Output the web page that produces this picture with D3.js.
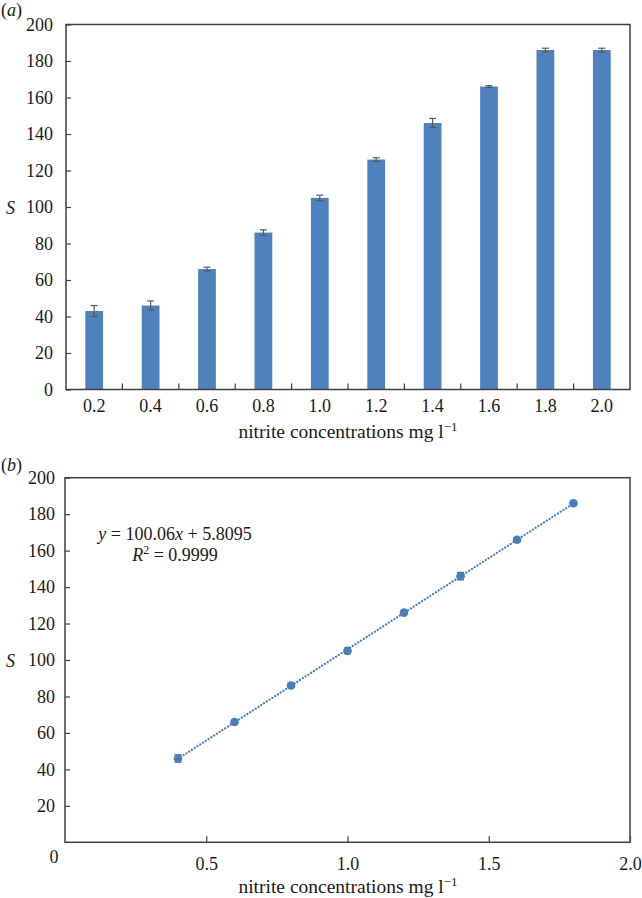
<!DOCTYPE html>
<html><head><meta charset="utf-8">
<script src="https://cdn.jsdelivr.net/npm/d3@7"></script>
<style>
body{margin:0;background:#fff;}
text{font-family:"Liberation Serif","Times New Roman",serif;fill:#1a1a1a;}
</style></head>
<body><svg id="c" width="642" height="898"></svg>
<script>
// ---- data ----
const categories = ["0.2","0.4","0.6","0.8","1.0","1.2","1.4","1.6","1.8","2.0"];
const barValues  = [43, 46, 66, 86, 105, 126, 146, 166, 186, 186];
const barErrors  = [3, 2.5, 1, 1.5, 1.5, 1, 2.5, 0.5, 1, 1];
const yTicksA    = [0,20,40,60,80,100,120,140,160,180,200];

const pointX      = [0.4, 0.6, 0.8, 1.0, 1.2, 1.4, 1.6, 1.8];
const pointY      = [46, 66, 86, 105, 126, 146, 166, 186];
const pointErrors = [2, 1, 1, 1.5, 0.8, 2, 0.8, 0.5];
const fitSlope = 100.06, fitIntercept = 5.8095;
const fitRange = [0.4, 1.8];
const yTicksB  = [20,40,60,80,100,120,140,160,180,200];
const xTicksB  = [0.5,1.0,1.5,2.0];

const svg = d3.select("#c");
const axisCol = "#404040", barCol = "#4f81bd", errCol = "#595959", ptCol = "#4a7ebb";
const FS = 18, FT = 19.5;

// ================= panel (a) =================
const A = {l:66, r:630, t:24.5, b:389.5};
const xA = d3.scaleBand().domain(categories).range([A.l, A.r]).padding(0);
const yA = d3.scaleLinear().domain([0,200]).range([A.b, A.t]);
const gA = svg.append("g");
const bw = xA.bandwidth()*0.315;

gA.selectAll("rect.bar").data(categories).join("rect")
  .attr("x", d => xA(d) + xA.bandwidth()/2 - bw/2)
  .attr("width", bw)
  .attr("y", (d,i) => yA(barValues[i]))
  .attr("height", (d,i) => yA(0) - yA(barValues[i]))
  .attr("fill", barCol);

// error bars
categories.forEach((c,i) => {
  const cx = xA(c) + xA.bandwidth()/2;
  const y1 = yA(barValues[i]+barErrors[i]), y2 = yA(barValues[i]-barErrors[i]);
  gA.append("line").attr("x1",cx).attr("x2",cx).attr("y1",y1).attr("y2",y2).attr("stroke",errCol).attr("stroke-width",1.2);
  [y1,y2].forEach(yy => gA.append("line").attr("x1",cx-3.5).attr("x2",cx+3.5).attr("y1",yy).attr("y2",yy).attr("stroke",errCol).attr("stroke-width",1.2));
});

// frame
gA.append("rect").attr("x",A.l).attr("y",A.t).attr("width",A.r-A.l).attr("height",A.b-A.t)
  .attr("fill","none").attr("stroke",axisCol).attr("stroke-width",1.5);

// y axis
const yAxA = gA.append("g").attr("transform",`translate(${A.l},0)`)
  .call(d3.axisLeft(yA).tickValues(yTicksA).tickSize(-5).tickPadding(13));
yAxA.select(".domain").remove();
yAxA.selectAll("line").attr("stroke",axisCol).attr("stroke-width",1.2);
yAxA.selectAll("text").attr("font-size",FS).attr("font-family","Liberation Serif").attr("fill","#1a1a1a");

// x axis: labels at category centres, ticks at boundaries
const xAxA = gA.append("g").attr("transform",`translate(0,${A.b})`)
  .call(d3.axisBottom(xA).tickSize(0).tickPadding(10));
xAxA.select(".domain").remove();
xAxA.selectAll("text").attr("font-size",FS).attr("font-family","Liberation Serif").attr("fill","#1a1a1a");
categories.slice(1).forEach(c => {
  gA.append("line").attr("x1",xA(c)).attr("x2",xA(c)).attr("y1",A.b).attr("y2",A.b-6)
    .attr("stroke",axisCol).attr("stroke-width",1.2);
});

function xTitle(g, x, y){
  const t = g.append("text").attr("x",x).attr("y",y).attr("text-anchor","middle").attr("font-size",FT);
  t.append("tspan").text("nitrite concentrations mg l");
  t.append("tspan").attr("dy",-7).attr("font-size",13).text("−1");
}
xTitle(gA, 348, 438);
gA.append("text").attr("x",6).attr("y",214).attr("font-size",FS).attr("font-style","italic").text("S");
gA.append("text").attr("x",1).attr("y",16).attr("font-size",FS).html('(<tspan font-style="italic">a</tspan>)');

// ================= panel (b) =================
const B = {l:65, r:630, t:477.7, b:842.3};
const xB = d3.scaleLinear().domain([0,2]).range([B.l, B.r]);
const yB = d3.scaleLinear().domain([0,200]).range([B.b, B.t]);
const gB = svg.append("g");

gB.append("rect").attr("x",B.l).attr("y",B.t).attr("width",B.r-B.l).attr("height",B.b-B.t)
  .attr("fill","none").attr("stroke",axisCol).attr("stroke-width",1.5);

const yAxB = gB.append("g").attr("transform",`translate(${B.l},0)`)
  .call(d3.axisLeft(yB).tickValues(yTicksB).tickSize(-5).tickPadding(10));
yAxB.select(".domain").remove();
yAxB.selectAll("line").attr("stroke",axisCol).attr("stroke-width",1.2);
yAxB.selectAll("text").attr("font-size",FS).attr("font-family","Liberation Serif").attr("fill","#1a1a1a");

const xAxB = gB.append("g").attr("transform",`translate(0,${B.b})`)
  .call(d3.axisBottom(xB).tickValues(xTicksB).tickFormat(d3.format(".1f")).tickSize(-6).tickPadding(15));
xAxB.select(".domain").remove();
xAxB.selectAll("line").attr("stroke",axisCol).attr("stroke-width",1.2);
xAxB.selectAll("text").attr("font-size",FS).attr("font-family","Liberation Serif").attr("fill","#1a1a1a");
// origin label
gB.append("text").attr("x",xB(0)-11).attr("y",B.b+21).attr("text-anchor","middle").attr("font-size",FS).text("0");

// trend line
const fitLine = d3.line().x(d => xB(d)).y(d => yB(fitSlope*d + fitIntercept));
gB.append("path").attr("d", fitLine(fitRange)).attr("fill","none").attr("stroke",ptCol)
  .attr("stroke-width",2.2).attr("stroke-dasharray","0.1,3.2").attr("stroke-linecap","round");

// error bars + points
pointX.forEach((x,i) => {
  const cx = xB(x), y1 = yB(pointY[i]+pointErrors[i]), y2 = yB(pointY[i]-pointErrors[i]);
  gB.append("line").attr("x1",cx).attr("x2",cx).attr("y1",y1).attr("y2",y2).attr("stroke",errCol).attr("stroke-width",1.2);
  [y1,y2].forEach(yy => gB.append("line").attr("x1",cx-3.5).attr("x2",cx+3.5).attr("y1",yy).attr("y2",yy).attr("stroke",errCol).attr("stroke-width",1.2));
});
gB.selectAll("circle.pt").data(pointX).join("circle")
  .attr("cx", d => xB(d)).attr("cy", (d,i) => yB(pointY[i])).attr("r",4.3).attr("fill",ptCol);

xTitle(gB, 348, 893);
gB.append("text").attr("x",6).attr("y",667).attr("font-size",FS).attr("font-style","italic").text("S");
gB.append("text").attr("x",1).attr("y",471).attr("font-size",FS).html('(<tspan font-style="italic">b</tspan>)');

// equation
const eq = gB.append("text").attr("x",175).attr("y",540).attr("text-anchor","middle").attr("font-size",FS);
eq.append("tspan").attr("font-style","italic").text("y");
eq.append("tspan").text(" = 100.06");
eq.append("tspan").attr("font-style","italic").text("x");
eq.append("tspan").text(" + 5.8095");
const r2 = gB.append("text").attr("x",175).attr("y",561).attr("text-anchor","middle").attr("font-size",FS);
r2.append("tspan").attr("font-style","italic").text("R");
r2.append("tspan").attr("dy",-7).attr("font-size",12).text("2");
r2.append("tspan").attr("dy",7).text(" = 0.9999");
</script></body></html>
